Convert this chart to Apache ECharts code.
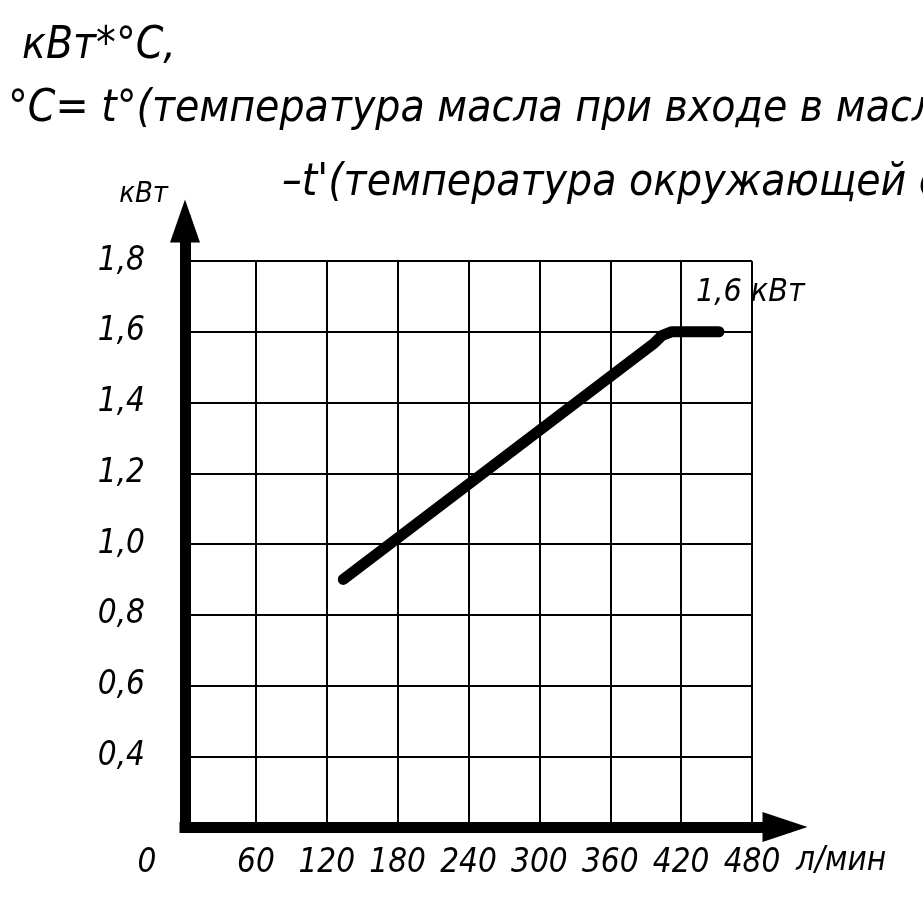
<!DOCTYPE html>
<html><head><meta charset="utf-8">
<script src="https://cdn.jsdelivr.net/npm/echarts@6/dist/echarts.min.js"></script>
<style>html,body{margin:0;padding:0;background:#fff}#c{width:923px;height:909px}</style>
</head><body><div id="c"></div>
<script>
// ---- data ----
const titleLine1 = 'кВт*°С,';
const titleLine2 = '°С= t°(температура масла при входе в маслоохладитель)';
const titleLine3 = '–t\'(температура окружающей среды)';
const yAxisName = 'кВт';
const xAxisName = 'л/мин';
const endLabelText = '1,6 кВт';
const xTickValues = [0, 60, 120, 180, 240, 300, 360, 420, 480];
const yTickValues = [0.2, 0.4, 0.6, 0.8, 1.0, 1.2, 1.4, 1.6, 1.8];
const flowLpm = [134, 397, 404, 412, 452];
const powerKw = [0.9, 1.567, 1.59, 1.6, 1.6];

// ---- chart ----
const FONT = "'DejaVu Sans Condensed', 'Liberation Sans Narrow', Roboto, sans-serif";
const chart = echarts.init(document.getElementById('c'), null, {renderer: 'canvas'});
const seriesData = flowLpm.map((x, i) => [x, powerKw[i]]);
const titleStyle = {fontFamily: FONT, fontStyle: 'italic', fontWeight: 'normal', fontSize: 44, color: '#000'};
const lblStyle = {fontFamily: FONT, fontStyle: 'italic', fontSize: 33, color: '#000'};

chart.setOption({
  animation: false,
  backgroundColor: '#fff',
  title: [
    {text: titleLine1, left: 22, top: 25, textStyle: titleStyle, padding: 0},
    {text: titleLine2, left: 8, top: 88, textStyle: titleStyle, padding: 0},
    {text: titleLine3, left: 282, top: 162, textStyle: titleStyle, padding: 0}
  ],
  grid: [
    {left: 185, top: 261, width: 567, height: 566},
    {left: 185, top: 221, width: 600, height: 606}
  ],
  xAxis: [
    {
      type: 'value', gridIndex: 0, min: xTickValues[0], max: xTickValues[xTickValues.length - 1], interval: 60,
      axisLine: {show: false}, axisTick: {show: false},
      splitLine: {show: true, lineStyle: {color: '#000', width: 2}},
      axisLabel: Object.assign({
        margin: 20, showMinLabel: true, showMaxLabel: true,
        formatter: v => v === 0 ? '{z|0}' : String(v),
        rich: {z: Object.assign({padding: [0, 76, 0, 0]}, lblStyle)}
      }, lblStyle),
      name: xAxisName, nameLocation: 'end', nameGap: 44,
      nameTextStyle: Object.assign({verticalAlign: 'top', padding: [18, 0, 0, 0]}, lblStyle)
    },
    {
      type: 'value', gridIndex: 1, min: 0, max: 1,
      axisLine: {show: true, symbol: ['none', 'triangle'], symbolSize: [30, 45],
        lineStyle: {color: '#000', width: 11, cap: 'square'}},
      axisTick: {show: false}, axisLabel: {show: false}, splitLine: {show: false}
    }
  ],
  yAxis: [
    {
      type: 'value', gridIndex: 0, min: yTickValues[0], max: yTickValues[yTickValues.length - 1], interval: 0.2,
      axisLine: {show: false}, axisTick: {show: false},
      splitLine: {show: true, lineStyle: {color: '#000', width: 2}},
      axisLabel: Object.assign({
        margin: 40,
        formatter: v => v < 0.3 ? '' : v.toFixed(1).replace('.', ',')
      }, lblStyle)
    },
    {
      type: 'value', gridIndex: 1, min: 0, max: 1,
      axisLine: {show: true, symbol: ['none', 'triangle'], symbolSize: [30, 43],
        lineStyle: {color: '#000', width: 11, cap: 'square'}},
      axisTick: {show: false}, axisLabel: {show: false}, splitLine: {show: false},
      name: yAxisName, nameLocation: 'end', nameGap: 12,
      nameTextStyle: {fontFamily: FONT, fontStyle: 'italic', fontSize: 29, color: '#000', align: 'right', padding: [0, 17, 0, 0]}
    }
  ],
  series: [{
    type: 'line', xAxisIndex: 0, yAxisIndex: 0,
    data: seriesData,
    showSymbol: false, symbol: 'none',
    lineStyle: {color: '#000', width: 11, cap: 'round', join: 'round'},
    endLabel: {show: true, formatter: endLabelText, offset: [-31, -39],
      fontFamily: FONT, fontStyle: 'italic', fontSize: 32, color: '#000'},
    z: 5
  }]
});
</script>
</body></html>
